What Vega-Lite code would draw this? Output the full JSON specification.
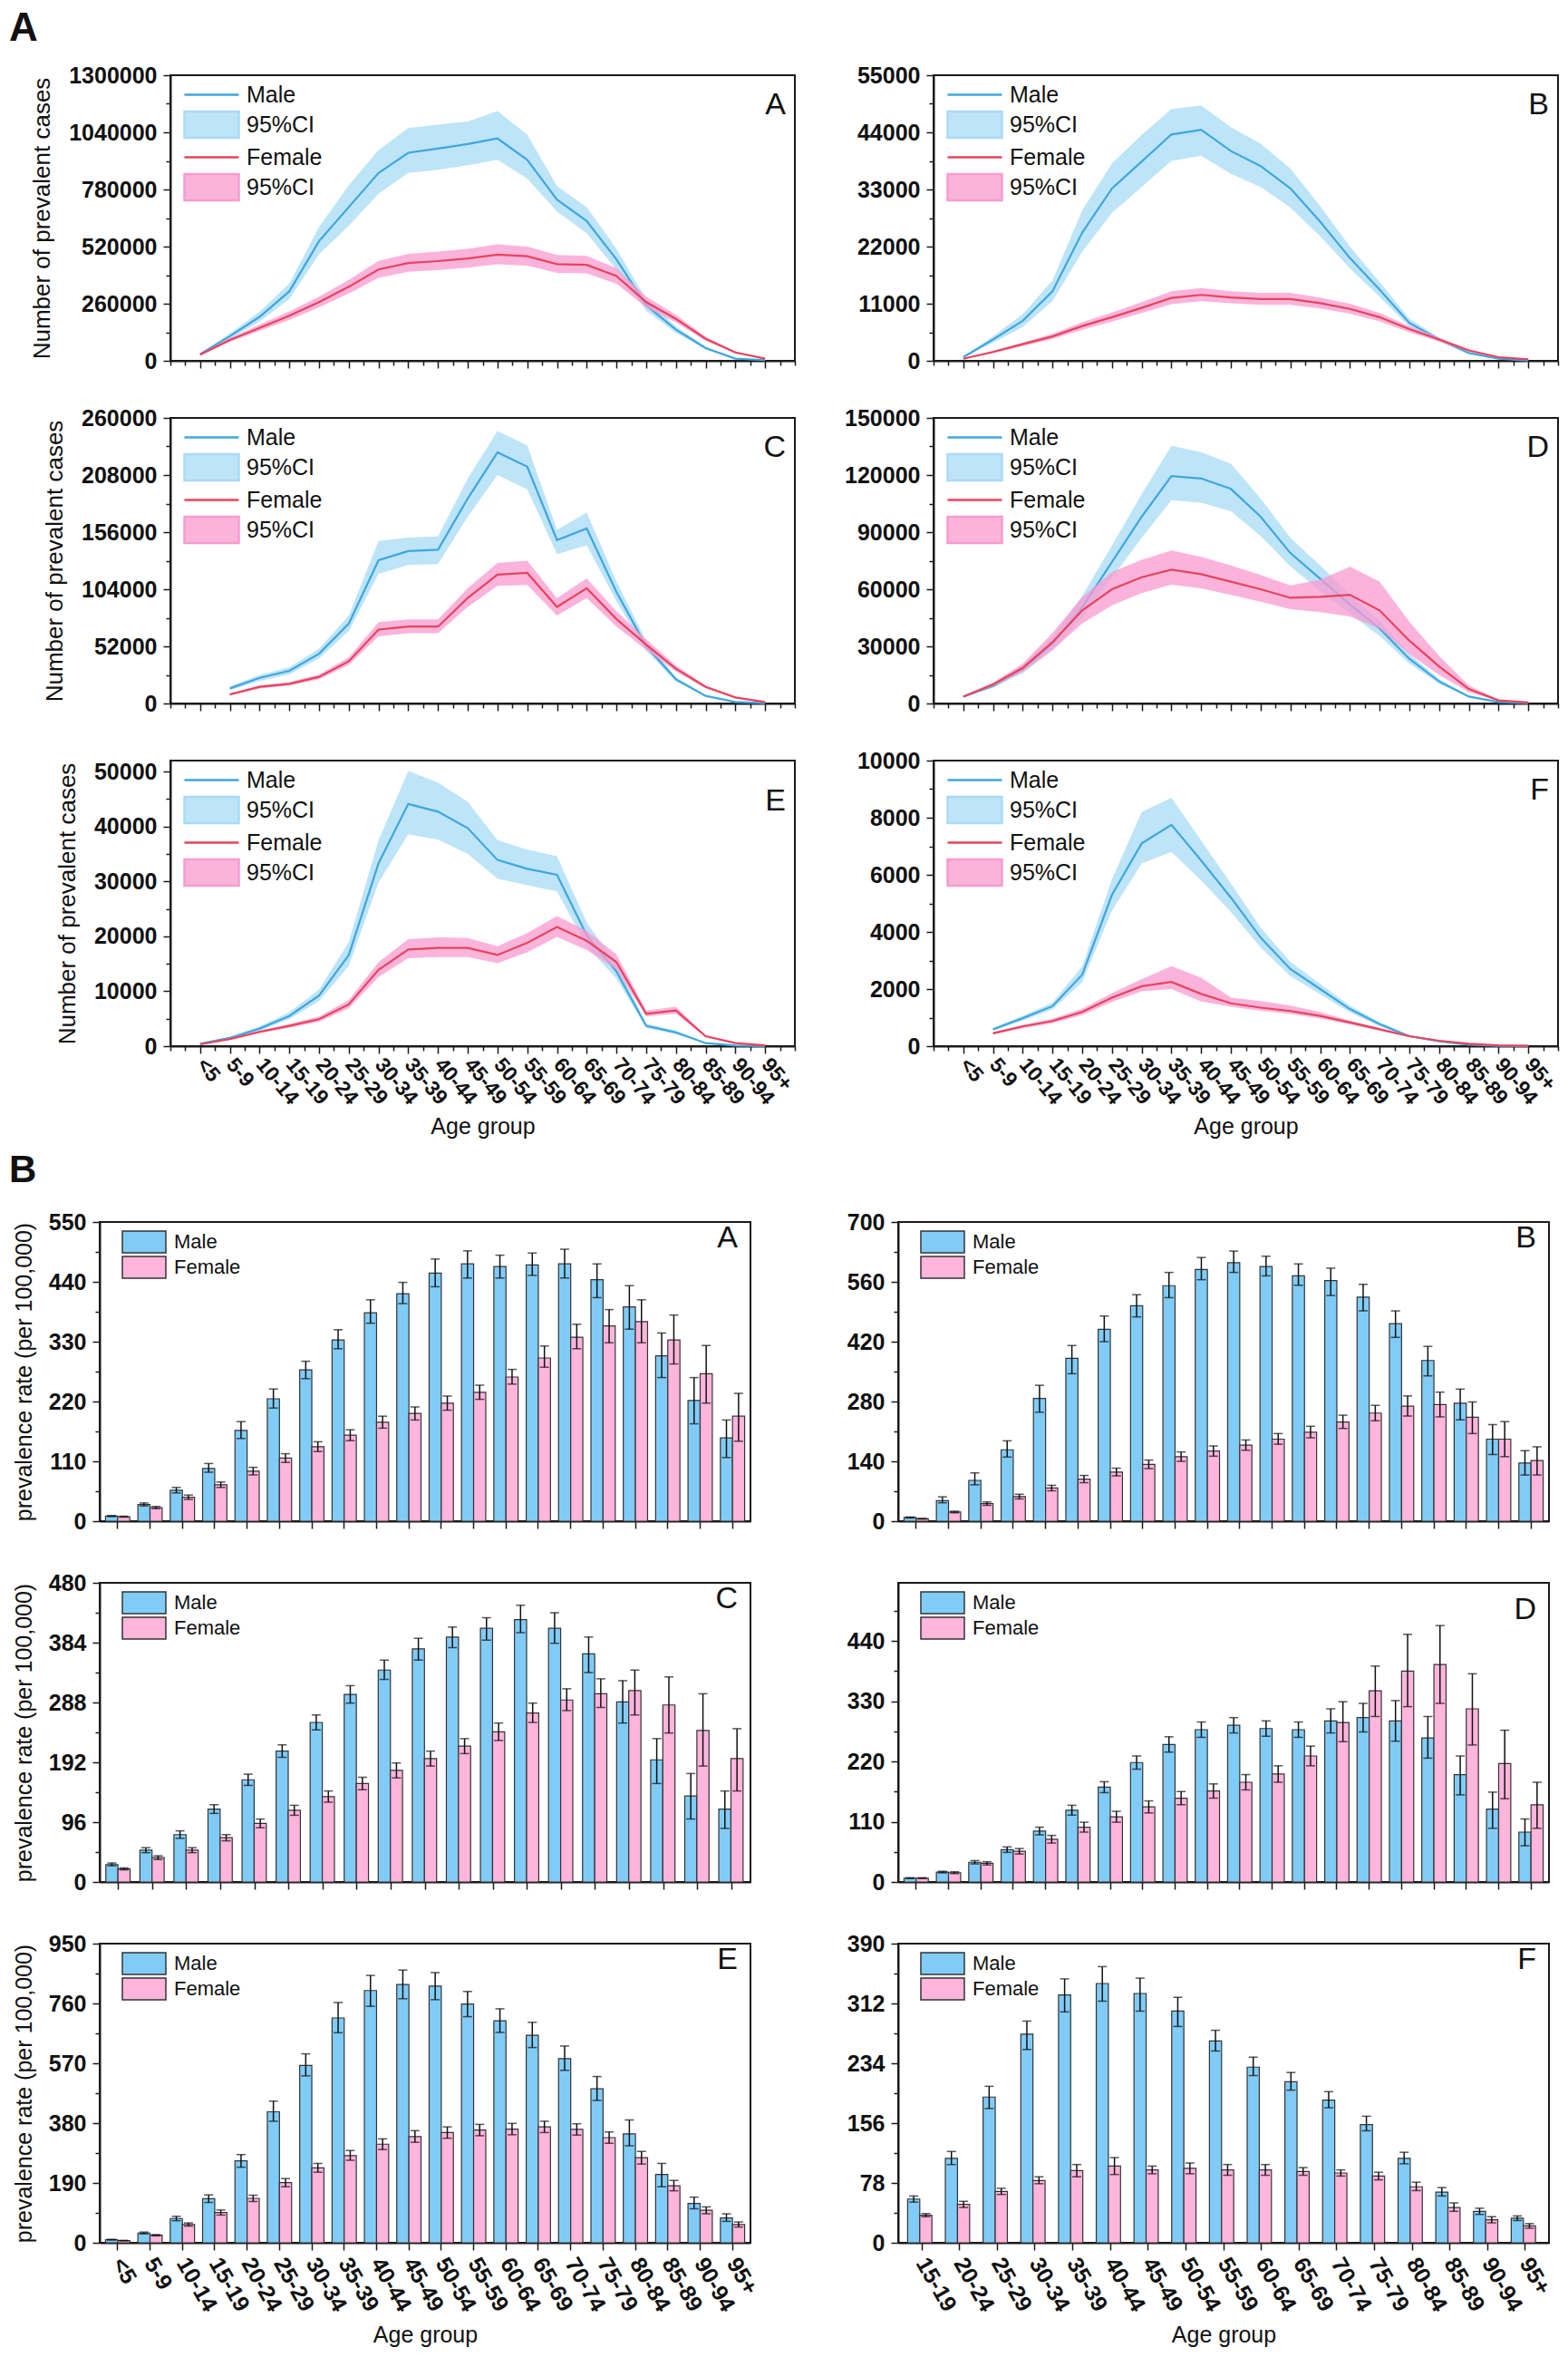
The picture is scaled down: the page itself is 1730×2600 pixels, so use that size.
{
"$schema": "https://vega.github.io/schema/vega-lite/v6.json",
"background": "white",
"padding": {"left": 10, "top": 10, "right": 0, "bottom": 0},
"columns": 1,
"align": "none",
"spacing": 13,
"resolve": {"scale": {"color": "independent"}, "legend": {"color": "independent"}},
"datasets": {
"lA": [
{"age":"<5","sex":"Male","val":30000,"lo":26000,"hi":34000},{"age":"5-9","sex":"Male","val":112000,"lo":100000,"hi":125000},{"age":"10-14","sex":"Male","val":200000,"lo":178000,"hi":224000},{"age":"15-19","sex":"Male","val":316000,"lo":282000,"hi":352000},{"age":"20-24","sex":"Male","val":545000,"lo":485000,"hi":610000},{"age":"25-29","sex":"Male","val":700000,"lo":615000,"hi":800000},{"age":"30-34","sex":"Male","val":855000,"lo":760000,"hi":960000},{"age":"35-39","sex":"Male","val":947000,"lo":855000,"hi":1060000},{"age":"40-44","sex":"Male","val":966000,"lo":870000,"hi":1075000},{"age":"45-49","sex":"Male","val":987000,"lo":890000,"hi":1090000},{"age":"50-54","sex":"Male","val":1012000,"lo":915000,"hi":1137000},{"age":"55-59","sex":"Male","val":915000,"lo":830000,"hi":1030000},{"age":"60-64","sex":"Male","val":734000,"lo":680000,"hi":795000},{"age":"65-69","sex":"Male","val":636000,"lo":580000,"hi":700000},{"age":"70-74","sex":"Male","val":462000,"lo":415000,"hi":510000},{"age":"75-79","sex":"Male","val":253000,"lo":228000,"hi":280000},{"age":"80-84","sex":"Male","val":142000,"lo":127000,"hi":157000},{"age":"85-89","sex":"Male","val":58000,"lo":52000,"hi":64000},{"age":"90-94","sex":"Male","val":10000,"lo":9000,"hi":11000},{"age":"95+","sex":"Male","val":3000,"lo":2700,"hi":3300},
{"age":"<5","sex":"Female","val":28000,"lo":25000,"hi":31000},{"age":"5-9","sex":"Female","val":95000,"lo":86000,"hi":104000},{"age":"10-14","sex":"Female","val":150000,"lo":136000,"hi":165000},{"age":"15-19","sex":"Female","val":205000,"lo":186000,"hi":225000},{"age":"20-24","sex":"Female","val":267000,"lo":243000,"hi":292000},{"age":"25-29","sex":"Female","val":337000,"lo":306000,"hi":368000},{"age":"30-34","sex":"Female","val":416000,"lo":378000,"hi":455000},{"age":"35-39","sex":"Female","val":445000,"lo":405000,"hi":487000},{"age":"40-44","sex":"Female","val":454000,"lo":413000,"hi":497000},{"age":"45-49","sex":"Female","val":466000,"lo":424000,"hi":510000},{"age":"50-54","sex":"Female","val":483000,"lo":440000,"hi":530000},{"age":"55-59","sex":"Female","val":476000,"lo":433000,"hi":520000},{"age":"60-64","sex":"Female","val":440000,"lo":400000,"hi":482000},{"age":"65-69","sex":"Female","val":437000,"lo":398000,"hi":478000},{"age":"70-74","sex":"Female","val":386000,"lo":351000,"hi":422000},{"age":"75-79","sex":"Female","val":267000,"lo":243000,"hi":292000},{"age":"80-84","sex":"Female","val":191000,"lo":174000,"hi":209000},{"age":"85-89","sex":"Female","val":100000,"lo":91000,"hi":109000},{"age":"90-94","sex":"Female","val":38000,"lo":34500,"hi":41500},{"age":"95+","sex":"Female","val":10000,"lo":9000,"hi":11000}
],
"lB": [
{"age":"<5","sex":"Male","val":700,"lo":600,"hi":800},{"age":"5-9","sex":"Male","val":4100,"lo":3500,"hi":4700},{"age":"10-14","sex":"Male","val":7700,"lo":6500,"hi":9000},{"age":"15-19","sex":"Male","val":13400,"lo":11500,"hi":15500},{"age":"20-24","sex":"Male","val":24700,"lo":21000,"hi":29000},{"age":"25-29","sex":"Male","val":33200,"lo":28500,"hi":38000},{"age":"30-34","sex":"Male","val":38400,"lo":33500,"hi":43500},{"age":"35-39","sex":"Male","val":43600,"lo":38500,"hi":48500},{"age":"40-44","sex":"Male","val":44500,"lo":39500,"hi":49200},{"age":"45-49","sex":"Male","val":40400,"lo":36000,"hi":45000},{"age":"50-54","sex":"Male","val":37500,"lo":33500,"hi":41800},{"age":"55-59","sex":"Male","val":33200,"lo":29500,"hi":37000},{"age":"60-64","sex":"Male","val":26800,"lo":24000,"hi":29800},{"age":"65-69","sex":"Male","val":19800,"lo":17800,"hi":22000},{"age":"70-74","sex":"Male","val":13700,"lo":12300,"hi":15200},{"age":"75-79","sex":"Male","val":7300,"lo":6600,"hi":8100},{"age":"80-84","sex":"Male","val":4100,"lo":3700,"hi":4500},{"age":"85-89","sex":"Male","val":1500,"lo":1350,"hi":1650},{"age":"90-94","sex":"Male","val":400,"lo":360,"hi":440},{"age":"95+","sex":"Male","val":60,"lo":50,"hi":70},
{"age":"<5","sex":"Female","val":400,"lo":350,"hi":450},{"age":"5-9","sex":"Female","val":1700,"lo":1500,"hi":1900},{"age":"10-14","sex":"Female","val":3200,"lo":2850,"hi":3550},{"age":"15-19","sex":"Female","val":4700,"lo":4200,"hi":5200},{"age":"20-24","sex":"Female","val":6700,"lo":6000,"hi":7400},{"age":"25-29","sex":"Female","val":8400,"lo":7550,"hi":9300},{"age":"30-34","sex":"Female","val":10200,"lo":9200,"hi":11300},{"age":"35-39","sex":"Female","val":12100,"lo":10900,"hi":13400},{"age":"40-44","sex":"Female","val":12700,"lo":11500,"hi":14000},{"age":"45-49","sex":"Female","val":12200,"lo":11100,"hi":13400},{"age":"50-54","sex":"Female","val":11900,"lo":10800,"hi":13100},{"age":"55-59","sex":"Female","val":11900,"lo":10800,"hi":13100},{"age":"60-64","sex":"Female","val":11100,"lo":10100,"hi":12200},{"age":"65-69","sex":"Female","val":10000,"lo":9100,"hi":11000},{"age":"70-74","sex":"Female","val":8400,"lo":7600,"hi":9200},{"age":"75-79","sex":"Female","val":6100,"lo":5500,"hi":6700},{"age":"80-84","sex":"Female","val":4100,"lo":3700,"hi":4500},{"age":"85-89","sex":"Female","val":2000,"lo":1800,"hi":2200},{"age":"90-94","sex":"Female","val":700,"lo":630,"hi":770},{"age":"95+","sex":"Female","val":300,"lo":270,"hi":330}
],
"lC": [
{"age":"5-9","sex":"Male","val":13700,"lo":12000,"hi":15500},{"age":"10-14","sex":"Male","val":23300,"lo":20500,"hi":26000},{"age":"15-19","sex":"Male","val":29700,"lo":26500,"hi":33000},{"age":"20-24","sex":"Male","val":45300,"lo":41000,"hi":50000},{"age":"25-29","sex":"Male","val":72800,"lo":66000,"hi":80000},{"age":"30-34","sex":"Male","val":130400,"lo":118000,"hi":148000},{"age":"35-39","sex":"Male","val":138700,"lo":126000,"hi":151000},{"age":"40-44","sex":"Male","val":140000,"lo":127000,"hi":152000},{"age":"45-49","sex":"Male","val":186700,"lo":170000,"hi":205000},{"age":"50-54","sex":"Male","val":228700,"lo":208000,"hi":248000},{"age":"55-59","sex":"Male","val":215600,"lo":195000,"hi":235000},{"age":"60-64","sex":"Male","val":148800,"lo":136000,"hi":158000},{"age":"65-69","sex":"Male","val":159300,"lo":144000,"hi":174000},{"age":"70-74","sex":"Male","val":101600,"lo":93000,"hi":111000},{"age":"75-79","sex":"Male","val":52200,"lo":48000,"hi":57000},{"age":"80-84","sex":"Male","val":22000,"lo":20000,"hi":24000},{"age":"85-89","sex":"Male","val":6900,"lo":6300,"hi":7500},{"age":"90-94","sex":"Male","val":1400,"lo":1250,"hi":1550},{"age":"95+","sex":"Male","val":300,"lo":270,"hi":330},
{"age":"5-9","sex":"Female","val":8200,"lo":7300,"hi":9100},{"age":"10-14","sex":"Female","val":15100,"lo":13700,"hi":16500},{"age":"15-19","sex":"Female","val":17800,"lo":16200,"hi":19500},{"age":"20-24","sex":"Female","val":24200,"lo":22000,"hi":26500},{"age":"25-29","sex":"Female","val":38400,"lo":35000,"hi":42000},{"age":"30-34","sex":"Female","val":67300,"lo":61000,"hi":74000},{"age":"35-39","sex":"Female","val":70000,"lo":64000,"hi":76500},{"age":"40-44","sex":"Female","val":70000,"lo":64000,"hi":76500},{"age":"45-49","sex":"Female","val":96100,"lo":88000,"hi":105000},{"age":"50-54","sex":"Female","val":117300,"lo":107000,"hi":128000},{"age":"55-59","sex":"Female","val":118900,"lo":108000,"hi":130000},{"age":"60-64","sex":"Female","val":87900,"lo":80000,"hi":96000},{"age":"65-69","sex":"Female","val":104900,"lo":96000,"hi":114000},{"age":"70-74","sex":"Female","val":76900,"lo":70000,"hi":84000},{"age":"75-79","sex":"Female","val":53500,"lo":49000,"hi":58500},{"age":"80-84","sex":"Female","val":31600,"lo":29000,"hi":34500},{"age":"85-89","sex":"Female","val":15100,"lo":13800,"hi":16500},{"age":"90-94","sex":"Female","val":5500,"lo":5000,"hi":6000},{"age":"95+","sex":"Female","val":1400,"lo":1250,"hi":1550}
],
"lD": [
{"age":"<5","sex":"Male","val":3600,"lo":3200,"hi":4000},{"age":"5-9","sex":"Male","val":9200,"lo":8300,"hi":10200},{"age":"10-14","sex":"Male","val":17900,"lo":16000,"hi":20000},{"age":"15-19","sex":"Male","val":31400,"lo":28000,"hi":35000},{"age":"20-24","sex":"Male","val":50500,"lo":45000,"hi":56500},{"age":"25-29","sex":"Male","val":74300,"lo":66000,"hi":83000},{"age":"30-34","sex":"Male","val":98100,"lo":87000,"hi":110000},{"age":"35-39","sex":"Male","val":119500,"lo":106800,"hi":135400},{"age":"40-44","sex":"Male","val":118200,"lo":105500,"hi":132000},{"age":"45-49","sex":"Male","val":112700,"lo":101000,"hi":126000},{"age":"50-54","sex":"Male","val":98100,"lo":88000,"hi":107600},{"age":"55-59","sex":"Male","val":79000,"lo":72000,"hi":87000},{"age":"60-64","sex":"Male","val":65500,"lo":59000,"hi":72500},{"age":"65-69","sex":"Male","val":52000,"lo":47000,"hi":57500},{"age":"70-74","sex":"Male","val":39400,"lo":35500,"hi":43500},{"age":"75-79","sex":"Male","val":23500,"lo":21000,"hi":26000},{"age":"80-84","sex":"Male","val":11600,"lo":10400,"hi":12800},{"age":"85-89","sex":"Male","val":3600,"lo":3200,"hi":4000},{"age":"90-94","sex":"Male","val":800,"lo":700,"hi":900},{"age":"95+","sex":"Male","val":200,"lo":180,"hi":220},
{"age":"<5","sex":"Female","val":3600,"lo":3200,"hi":4000},{"age":"5-9","sex":"Female","val":10000,"lo":9000,"hi":11000},{"age":"10-14","sex":"Female","val":18700,"lo":16500,"hi":21000},{"age":"15-19","sex":"Female","val":32200,"lo":28000,"hi":37000},{"age":"20-24","sex":"Female","val":48900,"lo":42000,"hi":56000},{"age":"25-29","sex":"Female","val":60000,"lo":51500,"hi":69000},{"age":"30-34","sex":"Female","val":66300,"lo":58000,"hi":75500},{"age":"35-39","sex":"Female","val":70300,"lo":62400,"hi":80300},{"age":"40-44","sex":"Female","val":67900,"lo":60500,"hi":77000},{"age":"45-49","sex":"Female","val":64000,"lo":57000,"hi":72500},{"age":"50-54","sex":"Female","val":60000,"lo":53500,"hi":67500},{"age":"55-59","sex":"Female","val":55500,"lo":49500,"hi":62000},{"age":"60-64","sex":"Female","val":56000,"lo":48000,"hi":65000},{"age":"65-69","sex":"Female","val":57100,"lo":45700,"hi":71900},{"age":"70-74","sex":"Female","val":48900,"lo":39400,"hi":64000},{"age":"75-79","sex":"Female","val":33000,"lo":26000,"hi":43000},{"age":"80-84","sex":"Female","val":19500,"lo":15000,"hi":25000},{"age":"85-89","sex":"Female","val":7600,"lo":6000,"hi":9500},{"age":"90-94","sex":"Female","val":1600,"lo":1300,"hi":2000},{"age":"95+","sex":"Female","val":500,"lo":400,"hi":600}
],
"lE": [
{"age":"<5","sex":"Male","val":440,"lo":380,"hi":500},{"age":"5-9","sex":"Male","val":1500,"lo":1300,"hi":1700},{"age":"10-14","sex":"Male","val":3200,"lo":2800,"hi":3600},{"age":"15-19","sex":"Male","val":5500,"lo":4900,"hi":6200},{"age":"20-24","sex":"Male","val":9200,"lo":8200,"hi":10300},{"age":"25-29","sex":"Male","val":16600,"lo":14600,"hi":19000},{"age":"30-34","sex":"Male","val":33300,"lo":29800,"hi":37500},{"age":"35-39","sex":"Male","val":44100,"lo":38600,"hi":50100},{"age":"40-44","sex":"Male","val":42700,"lo":37600,"hi":48000},{"age":"45-49","sex":"Male","val":39700,"lo":35000,"hi":44500},{"age":"50-54","sex":"Male","val":33900,"lo":30500,"hi":37500},{"age":"55-59","sex":"Male","val":32300,"lo":29300,"hi":35800},{"age":"60-64","sex":"Male","val":31200,"lo":28200,"hi":34600},{"age":"65-69","sex":"Male","val":20200,"lo":18200,"hi":22500},{"age":"70-74","sex":"Male","val":13600,"lo":12300,"hi":15000},{"age":"75-79","sex":"Male","val":3700,"lo":3300,"hi":4100},{"age":"80-84","sex":"Male","val":2500,"lo":2200,"hi":2800},{"age":"85-89","sex":"Male","val":550,"lo":480,"hi":620},{"age":"90-94","sex":"Male","val":100,"lo":90,"hi":110},{"age":"95+","sex":"Male","val":20,"lo":15,"hi":25},
{"age":"<5","sex":"Female","val":330,"lo":290,"hi":370},{"age":"5-9","sex":"Female","val":1300,"lo":1150,"hi":1450},{"age":"10-14","sex":"Female","val":2600,"lo":2350,"hi":2850},{"age":"15-19","sex":"Female","val":3700,"lo":3350,"hi":4050},{"age":"20-24","sex":"Female","val":4900,"lo":4450,"hi":5400},{"age":"25-29","sex":"Female","val":7600,"lo":6900,"hi":8400},{"age":"30-34","sex":"Female","val":13900,"lo":12600,"hi":15300},{"age":"35-39","sex":"Female","val":17600,"lo":16000,"hi":19500},{"age":"40-44","sex":"Female","val":17900,"lo":16200,"hi":19800},{"age":"45-49","sex":"Female","val":17900,"lo":16200,"hi":19700},{"age":"50-54","sex":"Female","val":16600,"lo":15100,"hi":18200},{"age":"55-59","sex":"Female","val":18800,"lo":17100,"hi":20600},{"age":"60-64","sex":"Female","val":21700,"lo":19900,"hi":23700},{"age":"65-69","sex":"Female","val":19200,"lo":17500,"hi":21000},{"age":"70-74","sex":"Female","val":15300,"lo":14000,"hi":16700},{"age":"75-79","sex":"Female","val":5900,"lo":5400,"hi":6500},{"age":"80-84","sex":"Female","val":6500,"lo":5900,"hi":7200},{"age":"85-89","sex":"Female","val":1800,"lo":1650,"hi":1950},{"age":"90-94","sex":"Female","val":550,"lo":500,"hi":600},{"age":"95+","sex":"Female","val":160,"lo":145,"hi":175}
],
"lF": [
{"age":"5-9","sex":"Male","val":590,"lo":540,"hi":640},{"age":"10-14","sex":"Male","val":980,"lo":900,"hi":1060},{"age":"15-19","sex":"Male","val":1400,"lo":1280,"hi":1520},{"age":"20-24","sex":"Male","val":2500,"lo":2250,"hi":2800},{"age":"25-29","sex":"Male","val":5300,"lo":4750,"hi":5850},{"age":"30-34","sex":"Male","val":7100,"lo":6400,"hi":8200},{"age":"35-39","sex":"Male","val":7750,"lo":6800,"hi":8700},{"age":"40-44","sex":"Male","val":6500,"lo":5800,"hi":7200},{"age":"45-49","sex":"Male","val":5200,"lo":4700,"hi":5700},{"age":"50-54","sex":"Male","val":3800,"lo":3450,"hi":4150},{"age":"55-59","sex":"Male","val":2700,"lo":2450,"hi":2950},{"age":"60-64","sex":"Male","val":2000,"lo":1820,"hi":2180},{"age":"65-69","sex":"Male","val":1300,"lo":1180,"hi":1420},{"age":"70-74","sex":"Male","val":770,"lo":700,"hi":840},{"age":"75-79","sex":"Male","val":350,"lo":320,"hi":380},{"age":"80-84","sex":"Male","val":170,"lo":155,"hi":185},{"age":"85-89","sex":"Male","val":50,"lo":45,"hi":55},{"age":"90-94","sex":"Male","val":10,"lo":9,"hi":11},{"age":"95+","sex":"Male","val":3,"lo":2,"hi":4},
{"age":"5-9","sex":"Female","val":450,"lo":410,"hi":490},{"age":"10-14","sex":"Female","val":690,"lo":630,"hi":750},{"age":"15-19","sex":"Female","val":880,"lo":800,"hi":960},{"age":"20-24","sex":"Female","val":1200,"lo":1090,"hi":1310},{"age":"25-29","sex":"Female","val":1700,"lo":1550,"hi":1860},{"age":"30-34","sex":"Female","val":2100,"lo":1920,"hi":2350},{"age":"35-39","sex":"Female","val":2250,"lo":2000,"hi":2800},{"age":"40-44","sex":"Female","val":1830,"lo":1560,"hi":2400},{"age":"45-49","sex":"Female","val":1500,"lo":1380,"hi":1700},{"age":"50-54","sex":"Female","val":1350,"lo":1240,"hi":1580},{"age":"55-59","sex":"Female","val":1230,"lo":1130,"hi":1420},{"age":"60-64","sex":"Female","val":1060,"lo":970,"hi":1200},{"age":"65-69","sex":"Female","val":830,"lo":760,"hi":900},{"age":"70-74","sex":"Female","val":590,"lo":540,"hi":640},{"age":"75-79","sex":"Female","val":350,"lo":320,"hi":380},{"age":"80-84","sex":"Female","val":190,"lo":175,"hi":205},{"age":"85-89","sex":"Female","val":85,"lo":78,"hi":92},{"age":"90-94","sex":"Female","val":30,"lo":27,"hi":33},{"age":"95+","sex":"Female","val":10,"lo":9,"hi":11}
],
"bA": [
{"age":"<5","sex":"Male","val":9.4,"lo":8.5,"hi":10.3},{"age":"5-9","sex":"Male","val":30.6,"lo":28,"hi":33.5},{"age":"10-14","sex":"Male","val":57,"lo":52,"hi":62},{"age":"15-19","sex":"Male","val":97,"lo":90,"hi":106},{"age":"20-24","sex":"Male","val":167,"lo":152,"hi":183},{"age":"25-29","sex":"Male","val":225,"lo":208,"hi":243},{"age":"30-34","sex":"Male","val":278,"lo":262,"hi":294},{"age":"35-39","sex":"Male","val":333,"lo":317,"hi":352},{"age":"40-44","sex":"Male","val":383,"lo":364,"hi":407},{"age":"45-49","sex":"Male","val":418,"lo":400,"hi":439},{"age":"50-54","sex":"Male","val":456,"lo":431,"hi":482},{"age":"55-59","sex":"Male","val":473,"lo":447,"hi":497},{"age":"60-64","sex":"Male","val":468,"lo":447,"hi":489},{"age":"65-69","sex":"Male","val":471,"lo":452,"hi":493},{"age":"70-74","sex":"Male","val":473,"lo":447,"hi":500},{"age":"75-79","sex":"Male","val":444,"lo":411,"hi":473},{"age":"80-84","sex":"Male","val":394,"lo":353,"hi":433},{"age":"85-89","sex":"Male","val":304,"lo":264,"hi":346},{"age":"90-94","sex":"Male","val":222,"lo":179,"hi":264},{"age":"95+","sex":"Male","val":153,"lo":117,"hi":186},
{"age":"<5","sex":"Female","val":8.3,"lo":7.5,"hi":9.1},{"age":"5-9","sex":"Female","val":25,"lo":23,"hi":27},{"age":"10-14","sex":"Female","val":44,"lo":40,"hi":48},{"age":"15-19","sex":"Female","val":67,"lo":62,"hi":72},{"age":"20-24","sex":"Female","val":92,"lo":85,"hi":99},{"age":"25-29","sex":"Female","val":116,"lo":108,"hi":124},{"age":"30-34","sex":"Female","val":137,"lo":128,"hi":146},{"age":"35-39","sex":"Female","val":158,"lo":148,"hi":168},{"age":"40-44","sex":"Female","val":182,"lo":171,"hi":193},{"age":"45-49","sex":"Female","val":198,"lo":186,"hi":210},{"age":"50-54","sex":"Female","val":217,"lo":204,"hi":230},{"age":"55-59","sex":"Female","val":237,"lo":224,"hi":250},{"age":"60-64","sex":"Female","val":265,"lo":252,"hi":279},{"age":"65-69","sex":"Female","val":300,"lo":283,"hi":322},{"age":"70-74","sex":"Female","val":338,"lo":317,"hi":362},{"age":"75-79","sex":"Female","val":359,"lo":328,"hi":389},{"age":"80-84","sex":"Female","val":367,"lo":328,"hi":407},{"age":"85-89","sex":"Female","val":333,"lo":289,"hi":379},{"age":"90-94","sex":"Female","val":271,"lo":217,"hi":323},{"age":"95+","sex":"Female","val":193,"lo":147,"hi":235}
],
"bB": [
{"age":"<5","sex":"Male","val":8.6,"lo":7.5,"hi":9.7},{"age":"5-9","sex":"Male","val":48,"lo":43,"hi":57},{"age":"10-14","sex":"Male","val":95.5,"lo":85,"hi":113},{"age":"15-19","sex":"Male","val":167,"lo":150,"hi":188},{"age":"20-24","sex":"Male","val":287,"lo":255,"hi":318},{"age":"25-29","sex":"Male","val":381,"lo":345,"hi":411},{"age":"30-34","sex":"Male","val":449,"lo":420,"hi":480},{"age":"35-39","sex":"Male","val":504,"lo":478,"hi":530},{"age":"40-44","sex":"Male","val":551,"lo":523,"hi":582},{"age":"45-49","sex":"Male","val":589,"lo":565,"hi":617},{"age":"50-54","sex":"Male","val":605,"lo":582,"hi":632},{"age":"55-59","sex":"Male","val":596,"lo":574,"hi":620},{"age":"60-64","sex":"Male","val":574,"lo":552,"hi":602},{"age":"65-69","sex":"Male","val":563,"lo":528,"hi":592},{"age":"70-74","sex":"Male","val":524,"lo":492,"hi":554},{"age":"75-79","sex":"Male","val":462,"lo":430,"hi":492},{"age":"80-84","sex":"Male","val":376,"lo":340,"hi":409},{"age":"85-89","sex":"Male","val":276,"lo":237,"hi":309},{"age":"90-94","sex":"Male","val":192,"lo":156,"hi":226},{"age":"95+","sex":"Male","val":136,"lo":108,"hi":165},
{"age":"<5","sex":"Female","val":5.7,"lo":5,"hi":6.4},{"age":"5-9","sex":"Female","val":21.5,"lo":19.5,"hi":23.5},{"age":"10-14","sex":"Female","val":41,"lo":37,"hi":45},{"age":"15-19","sex":"Female","val":57.4,"lo":52,"hi":63},{"age":"20-24","sex":"Female","val":77.5,"lo":71,"hi":84},{"age":"25-29","sex":"Female","val":98.4,"lo":90,"hi":107},{"age":"30-34","sex":"Female","val":115,"lo":106,"hi":124},{"age":"35-39","sex":"Female","val":133,"lo":123,"hi":143},{"age":"40-44","sex":"Female","val":151,"lo":140,"hi":162},{"age":"45-49","sex":"Female","val":164,"lo":152,"hi":176},{"age":"50-54","sex":"Female","val":178,"lo":166,"hi":190},{"age":"55-59","sex":"Female","val":192,"lo":180,"hi":205},{"age":"60-64","sex":"Female","val":208,"lo":195,"hi":222},{"age":"65-69","sex":"Female","val":232,"lo":217,"hi":248},{"age":"70-74","sex":"Female","val":253,"lo":235,"hi":271},{"age":"75-79","sex":"Female","val":269,"lo":246,"hi":293},{"age":"80-84","sex":"Female","val":273,"lo":244,"hi":302},{"age":"85-89","sex":"Female","val":243,"lo":205,"hi":279},{"age":"90-94","sex":"Female","val":192,"lo":151,"hi":233},{"age":"95+","sex":"Female","val":142,"lo":108,"hi":174}
],
"bC": [
{"age":"5-9","sex":"Male","val":28,"lo":26,"hi":30.5},{"age":"10-14","sex":"Male","val":51,"lo":47,"hi":55},{"age":"15-19","sex":"Male","val":76,"lo":70,"hi":82},{"age":"20-24","sex":"Male","val":117,"lo":110,"hi":124},{"age":"25-29","sex":"Male","val":164,"lo":155,"hi":173},{"age":"30-34","sex":"Male","val":210,"lo":200,"hi":220},{"age":"35-39","sex":"Male","val":256,"lo":244,"hi":268},{"age":"40-44","sex":"Male","val":301,"lo":287,"hi":315},{"age":"45-49","sex":"Male","val":340,"lo":325,"hi":356},{"age":"50-54","sex":"Male","val":374,"lo":356,"hi":391},{"age":"55-59","sex":"Male","val":393,"lo":376,"hi":409},{"age":"60-64","sex":"Male","val":407,"lo":388,"hi":424},{"age":"65-69","sex":"Male","val":421,"lo":400,"hi":444},{"age":"70-74","sex":"Male","val":407,"lo":383,"hi":432},{"age":"75-79","sex":"Male","val":366,"lo":336,"hi":393},{"age":"80-84","sex":"Male","val":289,"lo":255,"hi":323},{"age":"85-89","sex":"Male","val":196,"lo":158,"hi":230},{"age":"90-94","sex":"Male","val":138,"lo":101,"hi":174},{"age":"95+","sex":"Male","val":117,"lo":86,"hi":146},
{"age":"5-9","sex":"Female","val":21,"lo":19.5,"hi":22.5},{"age":"10-14","sex":"Female","val":39,"lo":36,"hi":42},{"age":"15-19","sex":"Female","val":51,"lo":47,"hi":55},{"age":"20-24","sex":"Female","val":71,"lo":66,"hi":76},{"age":"25-29","sex":"Female","val":94,"lo":87,"hi":101},{"age":"30-34","sex":"Female","val":115,"lo":107,"hi":123},{"age":"35-39","sex":"Female","val":137,"lo":128,"hi":146},{"age":"40-44","sex":"Female","val":158,"lo":148,"hi":168},{"age":"45-49","sex":"Female","val":179,"lo":167,"hi":191},{"age":"50-54","sex":"Female","val":198,"lo":186,"hi":210},{"age":"55-59","sex":"Female","val":218,"lo":206,"hi":230},{"age":"60-64","sex":"Female","val":241,"lo":227,"hi":255},{"age":"65-69","sex":"Female","val":271,"lo":256,"hi":287},{"age":"70-74","sex":"Female","val":292,"lo":275,"hi":310},{"age":"75-79","sex":"Female","val":302,"lo":280,"hi":326},{"age":"80-84","sex":"Female","val":307,"lo":268,"hi":340},{"age":"85-89","sex":"Female","val":284,"lo":239,"hi":329},{"age":"90-94","sex":"Female","val":243,"lo":186,"hi":302},{"age":"95+","sex":"Female","val":198,"lo":146,"hi":246}
],
"bD": [
{"age":"<5","sex":"Male","val":7,"lo":6.3,"hi":7.7},{"age":"5-9","sex":"Male","val":18,"lo":16.5,"hi":19.5},{"age":"10-14","sex":"Male","val":36,"lo":33,"hi":39},{"age":"15-19","sex":"Male","val":59,"lo":54,"hi":64},{"age":"20-24","sex":"Male","val":93,"lo":86,"hi":100},{"age":"25-29","sex":"Male","val":131,"lo":122,"hi":140},{"age":"30-34","sex":"Male","val":173,"lo":163,"hi":183},{"age":"35-39","sex":"Male","val":218,"lo":206,"hi":230},{"age":"40-44","sex":"Male","val":251,"lo":237,"hi":265},{"age":"45-49","sex":"Male","val":278,"lo":264,"hi":292},{"age":"50-54","sex":"Male","val":286,"lo":272,"hi":300},{"age":"55-59","sex":"Male","val":280,"lo":266,"hi":294},{"age":"60-64","sex":"Male","val":278,"lo":264,"hi":292},{"age":"65-69","sex":"Male","val":294,"lo":272,"hi":316},{"age":"70-74","sex":"Male","val":300,"lo":274,"hi":326},{"age":"75-79","sex":"Male","val":294,"lo":257,"hi":331},{"age":"80-84","sex":"Male","val":263,"lo":226,"hi":302},{"age":"85-89","sex":"Male","val":196,"lo":159,"hi":230},{"age":"90-94","sex":"Male","val":133,"lo":98,"hi":164},{"age":"95+","sex":"Male","val":91,"lo":66,"hi":115},
{"age":"<5","sex":"Female","val":7,"lo":6.3,"hi":7.7},{"age":"5-9","sex":"Female","val":17,"lo":15.5,"hi":18.5},{"age":"10-14","sex":"Female","val":34,"lo":31,"hi":37},{"age":"15-19","sex":"Female","val":56,"lo":51,"hi":61},{"age":"20-24","sex":"Female","val":78,"lo":71,"hi":85},{"age":"25-29","sex":"Female","val":100,"lo":91,"hi":109},{"age":"30-34","sex":"Female","val":119,"lo":109,"hi":129},{"age":"35-39","sex":"Female","val":137,"lo":126,"hi":148},{"age":"40-44","sex":"Female","val":153,"lo":141,"hi":165},{"age":"45-49","sex":"Female","val":166,"lo":153,"hi":179},{"age":"50-54","sex":"Female","val":182,"lo":168,"hi":196},{"age":"55-59","sex":"Female","val":197,"lo":182,"hi":212},{"age":"60-64","sex":"Female","val":230,"lo":212,"hi":248},{"age":"65-69","sex":"Female","val":291,"lo":256,"hi":329},{"age":"70-74","sex":"Female","val":349,"lo":302,"hi":394},{"age":"75-79","sex":"Female","val":385,"lo":320,"hi":452},{"age":"80-84","sex":"Female","val":397,"lo":326,"hi":468},{"age":"85-89","sex":"Female","val":316,"lo":250,"hi":380},{"age":"90-94","sex":"Female","val":216,"lo":152,"hi":277},{"age":"95+","sex":"Female","val":141,"lo":98,"hi":182}
],
"bE": [
{"age":"<5","sex":"Male","val":10,"lo":9,"hi":11},{"age":"5-9","sex":"Male","val":31,"lo":28,"hi":34},{"age":"10-14","sex":"Male","val":77,"lo":70,"hi":84},{"age":"15-19","sex":"Male","val":140,"lo":128,"hi":152},{"age":"20-24","sex":"Male","val":260,"lo":240,"hi":280},{"age":"25-29","sex":"Male","val":416,"lo":386,"hi":450},{"age":"30-34","sex":"Male","val":563,"lo":530,"hi":600},{"age":"35-39","sex":"Male","val":714,"lo":667,"hi":763},{"age":"40-44","sex":"Male","val":801,"lo":751,"hi":849},{"age":"45-49","sex":"Male","val":820,"lo":775,"hi":866},{"age":"50-54","sex":"Male","val":815,"lo":772,"hi":858},{"age":"55-59","sex":"Male","val":758,"lo":718,"hi":798},{"age":"60-64","sex":"Male","val":705,"lo":668,"hi":743},{"age":"65-69","sex":"Male","val":659,"lo":620,"hi":700},{"age":"70-74","sex":"Male","val":585,"lo":548,"hi":625},{"age":"75-79","sex":"Male","val":489,"lo":452,"hi":528},{"age":"80-84","sex":"Male","val":346,"lo":308,"hi":390},{"age":"85-89","sex":"Male","val":217,"lo":178,"hi":252},{"age":"90-94","sex":"Male","val":125,"lo":108,"hi":145},{"age":"95+","sex":"Male","val":79,"lo":68,"hi":92},
{"age":"<5","sex":"Female","val":7,"lo":6.3,"hi":7.7},{"age":"5-9","sex":"Female","val":24,"lo":22,"hi":26},{"age":"10-14","sex":"Female","val":58,"lo":53,"hi":63},{"age":"15-19","sex":"Female","val":96,"lo":88,"hi":104},{"age":"20-24","sex":"Female","val":141,"lo":131,"hi":151},{"age":"25-29","sex":"Female","val":191,"lo":178,"hi":204},{"age":"30-34","sex":"Female","val":238,"lo":224,"hi":252},{"age":"35-39","sex":"Female","val":277,"lo":262,"hi":293},{"age":"40-44","sex":"Female","val":313,"lo":296,"hi":330},{"age":"45-49","sex":"Female","val":337,"lo":319,"hi":356},{"age":"50-54","sex":"Female","val":350,"lo":332,"hi":368},{"age":"55-59","sex":"Female","val":358,"lo":340,"hi":376},{"age":"60-64","sex":"Female","val":361,"lo":343,"hi":379},{"age":"65-69","sex":"Female","val":368,"lo":350,"hi":386},{"age":"70-74","sex":"Female","val":360,"lo":342,"hi":378},{"age":"75-79","sex":"Female","val":334,"lo":316,"hi":352},{"age":"80-84","sex":"Female","val":270,"lo":250,"hi":290},{"age":"85-89","sex":"Female","val":181,"lo":165,"hi":198},{"age":"90-94","sex":"Female","val":103,"lo":92,"hi":114},{"age":"95+","sex":"Female","val":58,"lo":50,"hi":66}
],
"bF": [
{"age":"15-19","sex":"Male","val":57,"lo":53,"hi":61},{"age":"20-24","sex":"Male","val":110,"lo":102,"hi":119},{"age":"25-29","sex":"Male","val":190,"lo":175,"hi":204},{"age":"30-34","sex":"Male","val":272,"lo":252,"hi":289},{"age":"35-39","sex":"Male","val":323,"lo":301,"hi":344},{"age":"40-44","sex":"Male","val":338,"lo":315,"hi":360},{"age":"45-49","sex":"Male","val":325,"lo":302,"hi":345},{"age":"50-54","sex":"Male","val":302,"lo":282,"hi":320},{"age":"55-59","sex":"Male","val":263,"lo":250,"hi":277},{"age":"60-64","sex":"Male","val":229,"lo":218,"hi":242},{"age":"65-69","sex":"Male","val":210,"lo":199,"hi":222},{"age":"70-74","sex":"Male","val":186,"lo":176,"hi":197},{"age":"75-79","sex":"Male","val":154,"lo":146,"hi":165},{"age":"80-84","sex":"Male","val":110,"lo":103,"hi":118},{"age":"85-89","sex":"Male","val":66,"lo":61,"hi":72},{"age":"90-94","sex":"Male","val":41,"lo":37,"hi":45},{"age":"95+","sex":"Male","val":32,"lo":29,"hi":35},
{"age":"15-19","sex":"Female","val":36,"lo":34,"hi":38},{"age":"20-24","sex":"Female","val":50,"lo":46,"hi":54},{"age":"25-29","sex":"Female","val":67,"lo":63,"hi":71},{"age":"30-34","sex":"Female","val":81,"lo":77,"hi":86},{"age":"35-39","sex":"Female","val":94,"lo":86,"hi":102},{"age":"40-44","sex":"Female","val":100,"lo":89,"hi":111},{"age":"45-49","sex":"Female","val":95,"lo":90,"hi":100},{"age":"50-54","sex":"Female","val":97,"lo":90,"hi":104},{"age":"55-59","sex":"Female","val":95,"lo":88,"hi":102},{"age":"60-64","sex":"Female","val":95,"lo":88,"hi":102},{"age":"65-69","sex":"Female","val":93,"lo":88,"hi":98},{"age":"70-74","sex":"Female","val":91,"lo":87,"hi":95},{"age":"75-79","sex":"Female","val":87,"lo":82,"hi":92},{"age":"80-84","sex":"Female","val":73,"lo":68,"hi":79},{"age":"85-89","sex":"Female","val":46,"lo":41,"hi":52},{"age":"90-94","sex":"Female","val":30,"lo":26,"hi":34},{"age":"95+","sex":"Female","val":22,"lo":19,"hi":25}
]
},
"concat": [
{
"hconcat": [
{"width": 78, "height": 10, "data": {"values": []}, "mark": {"type": "point", "opacity": 0}, "encoding": {}, "view": {"stroke": null}},
{
"title": {"text": "A", "anchor": "start", "frame": "group", "dx": -178, "offset": 16, "fontSize": 44, "fontWeight": "bold"},
"columns": 2, "bounds": "flush", "spacing": {"row": 63, "column": 153},
"resolve": {"scale": {"color": "independent"}, "legend": {"color": "independent"}},
"concat": [
{
"width": 689, "height": 315, "data": {"name": "lA"},
"title": {"text": "A", "anchor": "end", "frame": "group", "offset": -62, "dx": -10, "fontSize": 34, "fontWeight": "normal"},
"encoding": {
"x": {"field": "age", "type": "ordinal", "sort": ["_0","_1","<5","_2","5-9","_3","10-14","_4","15-19","_5","20-24","_6","25-29","_7","30-34","_8","35-39","_9","40-44","_10","45-49","_11","50-54","_12","55-59","_13","60-64","_14","65-69","_15","70-74","_16","75-79","_17","80-84","_18","85-89","_19","90-94","_20","95+","_21","_22"], "scale": {"type": "point", "padding": 0, "domain": ["_0","_1","<5","_2","5-9","_3","10-14","_4","15-19","_5","20-24","_6","25-29","_7","30-34","_8","35-39","_9","40-44","_10","45-49","_11","50-54","_12","55-59","_13","60-64","_14","65-69","_15","70-74","_16","75-79","_17","80-84","_18","85-89","_19","90-94","_20","95+","_21","_22"]}, "axis": {"title": null, "labels": false, "tickSize": {"condition": {"test": "indexof(datum.value, '_') === 0", "value": 5}, "value": 8}}},
"y": {"field": "val", "type": "quantitative", "scale": {"domain": [0, 1300000], "nice": false}, "axis": {"title": "Number of prevalent cases", "titleFontSize": 26, "format": "d", "values": [0,130000,260000,390000,520000,650000,780000,910000,1040000,1170000,1300000], "labelExpr": "datum.value % 260000 === 0 ? datum.label : ''", "tickSize": {"condition": {"test": "datum.value % 260000 === 0", "value": 8}, "value": 5}, "titlePadding": 16}}
},
"layer": [
{"transform": [{"filter": "datum.sex === 'Male'"}], "mark": {"type": "area", "color": "#a8dbf6", "opacity": 0.75}, "encoding": {"y": {"field": "lo", "type": "quantitative", "title": "Number of prevalent cases"}, "y2": {"field": "hi"}}},
{"transform": [{"filter": "datum.sex === 'Male'"}], "mark": {"type": "line", "strokeWidth": 2.2}, "encoding": {"color": {"field": "sex", "type": "nominal", "scale": {"domain": ["Male","Male CI","Female","Female CI"], "range": ["#3ea7de","#a8dbf6","#e8435c","#f89bd0"]}, "legend": {"title": null, "orient": "none", "legendX": 14, "legendY": 5, "padding": 0, "labelExpr": "datum.label === 'Male CI' || datum.label === 'Female CI' ? '95%CI' : datum.label", "labelFontSize": 25, "labelOffset": 37, "symbolSize": 900, "rowPadding": 0, "encode": {"symbols": {"update": {"shape": {"signal": "datum.value === 'Male' || datum.value === 'Female' ? 'M-1,0H3' : 'M-1,-0.96H3V0.96H-1Z'"}, "fill": {"signal": "datum.value === 'Male CI' ? '#bee4f8' : datum.value === 'Female CI' ? '#fab4da' : 'transparent'"}, "stroke": {"signal": "datum.value === 'Male' ? '#3ea7de' : datum.value === 'Female' ? '#e8435c' : 'transparent'"}, "strokeWidth": {"value": 2.5}, "opacity": {"value": 1}}}}}}}},
{"transform": [{"filter": "datum.sex === 'Female'"}], "mark": {"type": "area", "color": "#f89bd0", "opacity": 0.75}, "encoding": {"y": {"field": "lo", "type": "quantitative", "title": "Number of prevalent cases"}, "y2": {"field": "hi"}}},
{"transform": [{"filter": "datum.sex === 'Female'"}], "mark": {"type": "line", "strokeWidth": 2.2}, "encoding": {"color": {"field": "sex", "type": "nominal"}}}
]
},
{
"width": 689, "height": 315, "data": {"name": "lB"},
"title": {"text": "B", "anchor": "end", "frame": "group", "offset": -62, "dx": -10, "fontSize": 34, "fontWeight": "normal"},
"encoding": {
"x": {"field": "age", "type": "ordinal", "sort": ["_0","_1","<5","_2","5-9","_3","10-14","_4","15-19","_5","20-24","_6","25-29","_7","30-34","_8","35-39","_9","40-44","_10","45-49","_11","50-54","_12","55-59","_13","60-64","_14","65-69","_15","70-74","_16","75-79","_17","80-84","_18","85-89","_19","90-94","_20","95+","_21","_22"], "scale": {"type": "point", "padding": 0, "domain": ["_0","_1","<5","_2","5-9","_3","10-14","_4","15-19","_5","20-24","_6","25-29","_7","30-34","_8","35-39","_9","40-44","_10","45-49","_11","50-54","_12","55-59","_13","60-64","_14","65-69","_15","70-74","_16","75-79","_17","80-84","_18","85-89","_19","90-94","_20","95+","_21","_22"]}, "axis": {"title": null, "labels": false, "tickSize": {"condition": {"test": "indexof(datum.value, '_') === 0", "value": 5}, "value": 8}}},
"y": {"field": "val", "type": "quantitative", "scale": {"domain": [0, 55000], "nice": false}, "axis": {"title": null, "format": "d", "values": [0,5500,11000,16500,22000,27500,33000,38500,44000,49500,55000], "labelExpr": "datum.value % 11000 === 0 ? datum.label : ''", "tickSize": {"condition": {"test": "datum.value % 11000 === 0", "value": 8}, "value": 5}}}
},
"layer": [
{"transform": [{"filter": "datum.sex === 'Male'"}], "mark": {"type": "area", "color": "#a8dbf6", "opacity": 0.75}, "encoding": {"y": {"field": "lo", "type": "quantitative", "title": null}, "y2": {"field": "hi"}}},
{"transform": [{"filter": "datum.sex === 'Male'"}], "mark": {"type": "line", "strokeWidth": 2.2}, "encoding": {"color": {"field": "sex", "type": "nominal", "scale": {"domain": ["Male","Male CI","Female","Female CI"], "range": ["#3ea7de","#a8dbf6","#e8435c","#f89bd0"]}, "legend": {"title": null, "orient": "none", "legendX": 14, "legendY": 5, "padding": 0, "labelExpr": "datum.label === 'Male CI' || datum.label === 'Female CI' ? '95%CI' : datum.label", "labelFontSize": 25, "labelOffset": 37, "symbolSize": 900, "rowPadding": 0, "encode": {"symbols": {"update": {"shape": {"signal": "datum.value === 'Male' || datum.value === 'Female' ? 'M-1,0H3' : 'M-1,-0.96H3V0.96H-1Z'"}, "fill": {"signal": "datum.value === 'Male CI' ? '#bee4f8' : datum.value === 'Female CI' ? '#fab4da' : 'transparent'"}, "stroke": {"signal": "datum.value === 'Male' ? '#3ea7de' : datum.value === 'Female' ? '#e8435c' : 'transparent'"}, "strokeWidth": {"value": 2.5}, "opacity": {"value": 1}}}}}}}},
{"transform": [{"filter": "datum.sex === 'Female'"}], "mark": {"type": "area", "color": "#f89bd0", "opacity": 0.75}, "encoding": {"y": {"field": "lo", "type": "quantitative", "title": null}, "y2": {"field": "hi"}}},
{"transform": [{"filter": "datum.sex === 'Female'"}], "mark": {"type": "line", "strokeWidth": 2.2}, "encoding": {"color": {"field": "sex", "type": "nominal"}}}
]
},
{
"width": 689, "height": 315, "data": {"name": "lC"},
"title": {"text": "C", "anchor": "end", "frame": "group", "offset": -62, "dx": -10, "fontSize": 34, "fontWeight": "normal"},
"encoding": {
"x": {"field": "age", "type": "ordinal", "sort": ["_0","_1","<5","_2","5-9","_3","10-14","_4","15-19","_5","20-24","_6","25-29","_7","30-34","_8","35-39","_9","40-44","_10","45-49","_11","50-54","_12","55-59","_13","60-64","_14","65-69","_15","70-74","_16","75-79","_17","80-84","_18","85-89","_19","90-94","_20","95+","_21","_22"], "scale": {"type": "point", "padding": 0, "domain": ["_0","_1","<5","_2","5-9","_3","10-14","_4","15-19","_5","20-24","_6","25-29","_7","30-34","_8","35-39","_9","40-44","_10","45-49","_11","50-54","_12","55-59","_13","60-64","_14","65-69","_15","70-74","_16","75-79","_17","80-84","_18","85-89","_19","90-94","_20","95+","_21","_22"]}, "axis": {"title": null, "labels": false, "tickSize": {"condition": {"test": "indexof(datum.value, '_') === 0", "value": 5}, "value": 8}}},
"y": {"field": "val", "type": "quantitative", "scale": {"domain": [0, 260000], "nice": false}, "axis": {"title": "Number of prevalent cases", "titleFontSize": 26, "format": "d", "values": [0,26000,52000,78000,104000,130000,156000,182000,208000,234000,260000], "labelExpr": "datum.value % 52000 === 0 ? datum.label : ''", "tickSize": {"condition": {"test": "datum.value % 52000 === 0", "value": 8}, "value": 5}, "titlePadding": 16}}
},
"layer": [
{"transform": [{"filter": "datum.sex === 'Male'"}], "mark": {"type": "area", "color": "#a8dbf6", "opacity": 0.75}, "encoding": {"y": {"field": "lo", "type": "quantitative", "title": "Number of prevalent cases"}, "y2": {"field": "hi"}}},
{"transform": [{"filter": "datum.sex === 'Male'"}], "mark": {"type": "line", "strokeWidth": 2.2}, "encoding": {"color": {"field": "sex", "type": "nominal", "scale": {"domain": ["Male","Male CI","Female","Female CI"], "range": ["#3ea7de","#a8dbf6","#e8435c","#f89bd0"]}, "legend": {"title": null, "orient": "none", "legendX": 14, "legendY": 5, "padding": 0, "labelExpr": "datum.label === 'Male CI' || datum.label === 'Female CI' ? '95%CI' : datum.label", "labelFontSize": 25, "labelOffset": 37, "symbolSize": 900, "rowPadding": 0, "encode": {"symbols": {"update": {"shape": {"signal": "datum.value === 'Male' || datum.value === 'Female' ? 'M-1,0H3' : 'M-1,-0.96H3V0.96H-1Z'"}, "fill": {"signal": "datum.value === 'Male CI' ? '#bee4f8' : datum.value === 'Female CI' ? '#fab4da' : 'transparent'"}, "stroke": {"signal": "datum.value === 'Male' ? '#3ea7de' : datum.value === 'Female' ? '#e8435c' : 'transparent'"}, "strokeWidth": {"value": 2.5}, "opacity": {"value": 1}}}}}}}},
{"transform": [{"filter": "datum.sex === 'Female'"}], "mark": {"type": "area", "color": "#f89bd0", "opacity": 0.75}, "encoding": {"y": {"field": "lo", "type": "quantitative", "title": "Number of prevalent cases"}, "y2": {"field": "hi"}}},
{"transform": [{"filter": "datum.sex === 'Female'"}], "mark": {"type": "line", "strokeWidth": 2.2}, "encoding": {"color": {"field": "sex", "type": "nominal"}}}
]
},
{
"width": 689, "height": 315, "data": {"name": "lD"},
"title": {"text": "D", "anchor": "end", "frame": "group", "offset": -62, "dx": -10, "fontSize": 34, "fontWeight": "normal"},
"encoding": {
"x": {"field": "age", "type": "ordinal", "sort": ["_0","_1","<5","_2","5-9","_3","10-14","_4","15-19","_5","20-24","_6","25-29","_7","30-34","_8","35-39","_9","40-44","_10","45-49","_11","50-54","_12","55-59","_13","60-64","_14","65-69","_15","70-74","_16","75-79","_17","80-84","_18","85-89","_19","90-94","_20","95+","_21","_22"], "scale": {"type": "point", "padding": 0, "domain": ["_0","_1","<5","_2","5-9","_3","10-14","_4","15-19","_5","20-24","_6","25-29","_7","30-34","_8","35-39","_9","40-44","_10","45-49","_11","50-54","_12","55-59","_13","60-64","_14","65-69","_15","70-74","_16","75-79","_17","80-84","_18","85-89","_19","90-94","_20","95+","_21","_22"]}, "axis": {"title": null, "labels": false, "tickSize": {"condition": {"test": "indexof(datum.value, '_') === 0", "value": 5}, "value": 8}}},
"y": {"field": "val", "type": "quantitative", "scale": {"domain": [0, 150000], "nice": false}, "axis": {"title": null, "format": "d", "values": [0,15000,30000,45000,60000,75000,90000,105000,120000,135000,150000], "labelExpr": "datum.value % 30000 === 0 ? datum.label : ''", "tickSize": {"condition": {"test": "datum.value % 30000 === 0", "value": 8}, "value": 5}}}
},
"layer": [
{"transform": [{"filter": "datum.sex === 'Male'"}], "mark": {"type": "area", "color": "#a8dbf6", "opacity": 0.75}, "encoding": {"y": {"field": "lo", "type": "quantitative", "title": null}, "y2": {"field": "hi"}}},
{"transform": [{"filter": "datum.sex === 'Male'"}], "mark": {"type": "line", "strokeWidth": 2.2}, "encoding": {"color": {"field": "sex", "type": "nominal", "scale": {"domain": ["Male","Male CI","Female","Female CI"], "range": ["#3ea7de","#a8dbf6","#e8435c","#f89bd0"]}, "legend": {"title": null, "orient": "none", "legendX": 14, "legendY": 5, "padding": 0, "labelExpr": "datum.label === 'Male CI' || datum.label === 'Female CI' ? '95%CI' : datum.label", "labelFontSize": 25, "labelOffset": 37, "symbolSize": 900, "rowPadding": 0, "encode": {"symbols": {"update": {"shape": {"signal": "datum.value === 'Male' || datum.value === 'Female' ? 'M-1,0H3' : 'M-1,-0.96H3V0.96H-1Z'"}, "fill": {"signal": "datum.value === 'Male CI' ? '#bee4f8' : datum.value === 'Female CI' ? '#fab4da' : 'transparent'"}, "stroke": {"signal": "datum.value === 'Male' ? '#3ea7de' : datum.value === 'Female' ? '#e8435c' : 'transparent'"}, "strokeWidth": {"value": 2.5}, "opacity": {"value": 1}}}}}}}},
{"transform": [{"filter": "datum.sex === 'Female'"}], "mark": {"type": "area", "color": "#f89bd0", "opacity": 0.75}, "encoding": {"y": {"field": "lo", "type": "quantitative", "title": null}, "y2": {"field": "hi"}}},
{"transform": [{"filter": "datum.sex === 'Female'"}], "mark": {"type": "line", "strokeWidth": 2.2}, "encoding": {"color": {"field": "sex", "type": "nominal"}}}
]
},
{
"width": 689, "height": 315, "data": {"name": "lE"},
"title": {"text": "E", "anchor": "end", "frame": "group", "offset": -62, "dx": -10, "fontSize": 34, "fontWeight": "normal"},
"encoding": {
"x": {"field": "age", "type": "ordinal", "sort": ["_0","_1","<5","_2","5-9","_3","10-14","_4","15-19","_5","20-24","_6","25-29","_7","30-34","_8","35-39","_9","40-44","_10","45-49","_11","50-54","_12","55-59","_13","60-64","_14","65-69","_15","70-74","_16","75-79","_17","80-84","_18","85-89","_19","90-94","_20","95+","_21","_22"], "scale": {"type": "point", "padding": 0, "domain": ["_0","_1","<5","_2","5-9","_3","10-14","_4","15-19","_5","20-24","_6","25-29","_7","30-34","_8","35-39","_9","40-44","_10","45-49","_11","50-54","_12","55-59","_13","60-64","_14","65-69","_15","70-74","_16","75-79","_17","80-84","_18","85-89","_19","90-94","_20","95+","_21","_22"]}, "axis": {"title": "Age group", "labelFontSize": 23, "labelAngle": 50, "labelAlign": "left", "labelBaseline": "middle", "labelPadding": 8, "labelOverlap": false, "labelExpr": "indexof(datum.value, '_') === 0 ? '' : datum.label", "tickSize": {"condition": {"test": "indexof(datum.value, '_') === 0", "value": 5}, "value": 8}, "titlePadding": 8}},
"y": {"field": "val", "type": "quantitative", "scale": {"domain": [0, 52000], "nice": false}, "axis": {"title": "Number of prevalent cases", "titleFontSize": 26, "format": "d", "values": [0,5000,10000,15000,20000,25000,30000,35000,40000,45000,50000], "labelExpr": "datum.value % 10000 === 0 ? datum.label : ''", "tickSize": {"condition": {"test": "datum.value % 10000 === 0", "value": 8}, "value": 5}, "titlePadding": 16}}
},
"layer": [
{"transform": [{"filter": "datum.sex === 'Male'"}], "mark": {"type": "area", "color": "#a8dbf6", "opacity": 0.75}, "encoding": {"y": {"field": "lo", "type": "quantitative", "title": "Number of prevalent cases"}, "y2": {"field": "hi"}}},
{"transform": [{"filter": "datum.sex === 'Male'"}], "mark": {"type": "line", "strokeWidth": 2.2}, "encoding": {"color": {"field": "sex", "type": "nominal", "scale": {"domain": ["Male","Male CI","Female","Female CI"], "range": ["#3ea7de","#a8dbf6","#e8435c","#f89bd0"]}, "legend": {"title": null, "orient": "none", "legendX": 14, "legendY": 5, "padding": 0, "labelExpr": "datum.label === 'Male CI' || datum.label === 'Female CI' ? '95%CI' : datum.label", "labelFontSize": 25, "labelOffset": 37, "symbolSize": 900, "rowPadding": 0, "encode": {"symbols": {"update": {"shape": {"signal": "datum.value === 'Male' || datum.value === 'Female' ? 'M-1,0H3' : 'M-1,-0.96H3V0.96H-1Z'"}, "fill": {"signal": "datum.value === 'Male CI' ? '#bee4f8' : datum.value === 'Female CI' ? '#fab4da' : 'transparent'"}, "stroke": {"signal": "datum.value === 'Male' ? '#3ea7de' : datum.value === 'Female' ? '#e8435c' : 'transparent'"}, "strokeWidth": {"value": 2.5}, "opacity": {"value": 1}}}}}}}},
{"transform": [{"filter": "datum.sex === 'Female'"}], "mark": {"type": "area", "color": "#f89bd0", "opacity": 0.75}, "encoding": {"y": {"field": "lo", "type": "quantitative", "title": "Number of prevalent cases"}, "y2": {"field": "hi"}}},
{"transform": [{"filter": "datum.sex === 'Female'"}], "mark": {"type": "line", "strokeWidth": 2.2}, "encoding": {"color": {"field": "sex", "type": "nominal"}}}
]
},
{
"width": 689, "height": 315, "data": {"name": "lF"},
"title": {"text": "F", "anchor": "end", "frame": "group", "offset": -62, "dx": -10, "fontSize": 34, "fontWeight": "normal"},
"encoding": {
"x": {"field": "age", "type": "ordinal", "sort": ["_0","_1","<5","_2","5-9","_3","10-14","_4","15-19","_5","20-24","_6","25-29","_7","30-34","_8","35-39","_9","40-44","_10","45-49","_11","50-54","_12","55-59","_13","60-64","_14","65-69","_15","70-74","_16","75-79","_17","80-84","_18","85-89","_19","90-94","_20","95+","_21","_22"], "scale": {"type": "point", "padding": 0, "domain": ["_0","_1","<5","_2","5-9","_3","10-14","_4","15-19","_5","20-24","_6","25-29","_7","30-34","_8","35-39","_9","40-44","_10","45-49","_11","50-54","_12","55-59","_13","60-64","_14","65-69","_15","70-74","_16","75-79","_17","80-84","_18","85-89","_19","90-94","_20","95+","_21","_22"]}, "axis": {"title": "Age group", "labelFontSize": 23, "labelAngle": 50, "labelAlign": "left", "labelBaseline": "middle", "labelPadding": 8, "labelOverlap": false, "labelExpr": "indexof(datum.value, '_') === 0 ? '' : datum.label", "tickSize": {"condition": {"test": "indexof(datum.value, '_') === 0", "value": 5}, "value": 8}, "titlePadding": 8}},
"y": {"field": "val", "type": "quantitative", "scale": {"domain": [0, 10000], "nice": false}, "axis": {"title": null, "format": "d", "values": [0,1000,2000,3000,4000,5000,6000,7000,8000,9000,10000], "labelExpr": "datum.value % 2000 === 0 ? datum.label : ''", "tickSize": {"condition": {"test": "datum.value % 2000 === 0", "value": 8}, "value": 5}}}
},
"layer": [
{"transform": [{"filter": "datum.sex === 'Male'"}], "mark": {"type": "area", "color": "#a8dbf6", "opacity": 0.75}, "encoding": {"y": {"field": "lo", "type": "quantitative", "title": null}, "y2": {"field": "hi"}}},
{"transform": [{"filter": "datum.sex === 'Male'"}], "mark": {"type": "line", "strokeWidth": 2.2}, "encoding": {"color": {"field": "sex", "type": "nominal", "scale": {"domain": ["Male","Male CI","Female","Female CI"], "range": ["#3ea7de","#a8dbf6","#e8435c","#f89bd0"]}, "legend": {"title": null, "orient": "none", "legendX": 14, "legendY": 5, "padding": 0, "labelExpr": "datum.label === 'Male CI' || datum.label === 'Female CI' ? '95%CI' : datum.label", "labelFontSize": 25, "labelOffset": 37, "symbolSize": 900, "rowPadding": 0, "encode": {"symbols": {"update": {"shape": {"signal": "datum.value === 'Male' || datum.value === 'Female' ? 'M-1,0H3' : 'M-1,-0.96H3V0.96H-1Z'"}, "fill": {"signal": "datum.value === 'Male CI' ? '#bee4f8' : datum.value === 'Female CI' ? '#fab4da' : 'transparent'"}, "stroke": {"signal": "datum.value === 'Male' ? '#3ea7de' : datum.value === 'Female' ? '#e8435c' : 'transparent'"}, "strokeWidth": {"value": 2.5}, "opacity": {"value": 1}}}}}}}},
{"transform": [{"filter": "datum.sex === 'Female'"}], "mark": {"type": "area", "color": "#f89bd0", "opacity": 0.75}, "encoding": {"y": {"field": "lo", "type": "quantitative", "title": null}, "y2": {"field": "hi"}}},
{"transform": [{"filter": "datum.sex === 'Female'"}], "mark": {"type": "line", "strokeWidth": 2.2}, "encoding": {"color": {"field": "sex", "type": "nominal"}}}
]
}
]
}
],
"spacing": 0,
"bounds": "flush",
"resolve": {"scale": {"color": "independent"}, "legend": {"color": "independent"}}
},
{
"title": {"text": "B", "anchor": "start", "frame": "group", "dx": -100, "offset": 22, "fontSize": 42, "fontWeight": "bold"},
"columns": 2, "bounds": "flush", "spacing": {"row": 68, "column": 163},
"resolve": {"scale": {"color": "independent"}, "legend": {"color": "independent"}},
"concat": [
{
"width": 718, "height": 330, "data": {"name": "bA"},
"title": {"text": "A", "anchor": "end", "frame": "group", "offset": -47, "dx": -14, "fontSize": 34, "fontWeight": "normal"},
"encoding": {
"x": {"field": "age", "type": "nominal", "scale": {"domain": ["<5","5-9","10-14","15-19","20-24","25-29","30-34","35-39","40-44","45-49","50-54","55-59","60-64","65-69","70-74","75-79","80-84","85-89","90-94","95+"], "paddingInner": 0.25, "paddingOuter": 0.18}, "axis": {"title": null, "labels": false, "tickSize": 8}},
"xOffset": {"field": "sex", "type": "nominal", "scale": {"domain": ["Male","Female"], "paddingInner": 0, "paddingOuter": 0}},
"y": {"field": "val", "type": "quantitative", "scale": {"domain": [0, 550], "nice": false}, "axis": {"title": "prevalence rate (per 100,000)", "values": [0,55,110,165,220,275,330,385,440,495,550], "labelExpr": "datum.value % 110 === 0 ? datum.label : ''", "tickSize": {"condition": {"test": "datum.value % 110 === 0", "value": 8}, "value": 5}, "titlePadding": 14}}
},
"layer": [
{"mark": {"type": "bar", "stroke": "#333", "strokeWidth": 1.2}, "encoding": {"color": {"field": "sex", "type": "nominal", "scale": {"domain": ["Male","Female"], "range": ["#80ccf7","#ffb5dc"]}, "legend": {"title": null, "orient": "none", "legendX": 24, "legendY": 9, "padding": 0, "labelFontSize": 22, "labelOffset": 32, "symbolSize": 576, "symbolType": "M-1,-1H3V1H-1Z", "symbolStrokeColor": "#333", "symbolStrokeWidth": 1.5, "rowPadding": -3}}}},
{"mark": {"type": "rule", "color": "#111", "strokeWidth": 1.5}, "encoding": {"y": {"field": "lo", "type": "quantitative", "title": "prevalence rate (per 100,000)"}, "y2": {"field": "hi"}}},
{"mark": {"type": "tick", "color": "#111", "thickness": 1.5, "size": 10}, "encoding": {"y": {"field": "hi", "type": "quantitative", "title": "prevalence rate (per 100,000)"}}},
{"mark": {"type": "tick", "color": "#111", "thickness": 1.5, "size": 10}, "encoding": {"y": {"field": "lo", "type": "quantitative", "title": "prevalence rate (per 100,000)"}}}
]
},
{
"width": 718, "height": 330, "data": {"name": "bB"},
"title": {"text": "B", "anchor": "end", "frame": "group", "offset": -47, "dx": -14, "fontSize": 34, "fontWeight": "normal"},
"encoding": {
"x": {"field": "age", "type": "nominal", "scale": {"domain": ["<5","5-9","10-14","15-19","20-24","25-29","30-34","35-39","40-44","45-49","50-54","55-59","60-64","65-69","70-74","75-79","80-84","85-89","90-94","95+"], "paddingInner": 0.25, "paddingOuter": 0.18}, "axis": {"title": null, "labels": false, "tickSize": 8}},
"xOffset": {"field": "sex", "type": "nominal", "scale": {"domain": ["Male","Female"], "paddingInner": 0, "paddingOuter": 0}},
"y": {"field": "val", "type": "quantitative", "scale": {"domain": [0, 700], "nice": false}, "axis": {"title": null, "values": [0,70,140,210,280,350,420,490,560,630,700], "labelExpr": "datum.value % 140 === 0 ? datum.label : ''", "tickSize": {"condition": {"test": "datum.value % 140 === 0", "value": 8}, "value": 5}}}
},
"layer": [
{"mark": {"type": "bar", "stroke": "#333", "strokeWidth": 1.2}, "encoding": {"color": {"field": "sex", "type": "nominal", "scale": {"domain": ["Male","Female"], "range": ["#80ccf7","#ffb5dc"]}, "legend": {"title": null, "orient": "none", "legendX": 24, "legendY": 9, "padding": 0, "labelFontSize": 22, "labelOffset": 32, "symbolSize": 576, "symbolType": "M-1,-1H3V1H-1Z", "symbolStrokeColor": "#333", "symbolStrokeWidth": 1.5, "rowPadding": -3}}}},
{"mark": {"type": "rule", "color": "#111", "strokeWidth": 1.5}, "encoding": {"y": {"field": "lo", "type": "quantitative", "title": null}, "y2": {"field": "hi"}}},
{"mark": {"type": "tick", "color": "#111", "thickness": 1.5, "size": 10}, "encoding": {"y": {"field": "hi", "type": "quantitative", "title": null}}},
{"mark": {"type": "tick", "color": "#111", "thickness": 1.5, "size": 10}, "encoding": {"y": {"field": "lo", "type": "quantitative", "title": null}}}
]
},
{
"width": 718, "height": 330, "data": {"name": "bC"},
"title": {"text": "C", "anchor": "end", "frame": "group", "offset": -47, "dx": -14, "fontSize": 34, "fontWeight": "normal"},
"encoding": {
"x": {"field": "age", "type": "nominal", "scale": {"domain": ["5-9","10-14","15-19","20-24","25-29","30-34","35-39","40-44","45-49","50-54","55-59","60-64","65-69","70-74","75-79","80-84","85-89","90-94","95+"], "paddingInner": 0.25, "paddingOuter": 0.18}, "axis": {"title": null, "labels": false, "tickSize": 8}},
"xOffset": {"field": "sex", "type": "nominal", "scale": {"domain": ["Male","Female"], "paddingInner": 0, "paddingOuter": 0}},
"y": {"field": "val", "type": "quantitative", "scale": {"domain": [0, 480], "nice": false}, "axis": {"title": "prevalence rate (per 100,000)", "values": [0,48,96,144,192,240,288,336,384,432,480], "labelExpr": "datum.value % 96 === 0 ? datum.label : ''", "tickSize": {"condition": {"test": "datum.value % 96 === 0", "value": 8}, "value": 5}, "titlePadding": 14}}
},
"layer": [
{"mark": {"type": "bar", "stroke": "#333", "strokeWidth": 1.2}, "encoding": {"color": {"field": "sex", "type": "nominal", "scale": {"domain": ["Male","Female"], "range": ["#80ccf7","#ffb5dc"]}, "legend": {"title": null, "orient": "none", "legendX": 24, "legendY": 9, "padding": 0, "labelFontSize": 22, "labelOffset": 32, "symbolSize": 576, "symbolType": "M-1,-1H3V1H-1Z", "symbolStrokeColor": "#333", "symbolStrokeWidth": 1.5, "rowPadding": -3}}}},
{"mark": {"type": "rule", "color": "#111", "strokeWidth": 1.5}, "encoding": {"y": {"field": "lo", "type": "quantitative", "title": "prevalence rate (per 100,000)"}, "y2": {"field": "hi"}}},
{"mark": {"type": "tick", "color": "#111", "thickness": 1.5, "size": 10}, "encoding": {"y": {"field": "hi", "type": "quantitative", "title": "prevalence rate (per 100,000)"}}},
{"mark": {"type": "tick", "color": "#111", "thickness": 1.5, "size": 10}, "encoding": {"y": {"field": "lo", "type": "quantitative", "title": "prevalence rate (per 100,000)"}}}
]
},
{
"width": 718, "height": 330, "data": {"name": "bD"},
"title": {"text": "D", "anchor": "end", "frame": "group", "offset": -47, "dx": -14, "fontSize": 34, "fontWeight": "normal"},
"encoding": {
"x": {"field": "age", "type": "nominal", "scale": {"domain": ["<5","5-9","10-14","15-19","20-24","25-29","30-34","35-39","40-44","45-49","50-54","55-59","60-64","65-69","70-74","75-79","80-84","85-89","90-94","95+"], "paddingInner": 0.25, "paddingOuter": 0.18}, "axis": {"title": null, "labels": false, "tickSize": 8}},
"xOffset": {"field": "sex", "type": "nominal", "scale": {"domain": ["Male","Female"], "paddingInner": 0, "paddingOuter": 0}},
"y": {"field": "val", "type": "quantitative", "scale": {"domain": [0, 546], "nice": false}, "axis": {"title": null, "values": [0,55,110,165,220,275,330,385,440,495], "labelExpr": "datum.value % 110 === 0 ? datum.label : ''", "tickSize": {"condition": {"test": "datum.value % 110 === 0", "value": 8}, "value": 5}}}
},
"layer": [
{"mark": {"type": "bar", "stroke": "#333", "strokeWidth": 1.2}, "encoding": {"color": {"field": "sex", "type": "nominal", "scale": {"domain": ["Male","Female"], "range": ["#80ccf7","#ffb5dc"]}, "legend": {"title": null, "orient": "none", "legendX": 24, "legendY": 9, "padding": 0, "labelFontSize": 22, "labelOffset": 32, "symbolSize": 576, "symbolType": "M-1,-1H3V1H-1Z", "symbolStrokeColor": "#333", "symbolStrokeWidth": 1.5, "rowPadding": -3}}}},
{"mark": {"type": "rule", "color": "#111", "strokeWidth": 1.5}, "encoding": {"y": {"field": "lo", "type": "quantitative", "title": null}, "y2": {"field": "hi"}}},
{"mark": {"type": "tick", "color": "#111", "thickness": 1.5, "size": 10}, "encoding": {"y": {"field": "hi", "type": "quantitative", "title": null}}},
{"mark": {"type": "tick", "color": "#111", "thickness": 1.5, "size": 10}, "encoding": {"y": {"field": "lo", "type": "quantitative", "title": null}}}
]
},
{
"width": 718, "height": 330, "data": {"name": "bE"},
"title": {"text": "E", "anchor": "end", "frame": "group", "offset": -47, "dx": -14, "fontSize": 34, "fontWeight": "normal"},
"encoding": {
"x": {"field": "age", "type": "nominal", "scale": {"domain": ["<5","5-9","10-14","15-19","20-24","25-29","30-34","35-39","40-44","45-49","50-54","55-59","60-64","65-69","70-74","75-79","80-84","85-89","90-94","95+"], "paddingInner": 0.25, "paddingOuter": 0.18}, "axis": {"title": "Age group", "labelFontSize": 25, "labelAngle": 60, "labelAlign": "left", "labelBaseline": "middle", "labelPadding": 10, "labelOverlap": false, "tickSize": 8, "titlePadding": 10}},
"xOffset": {"field": "sex", "type": "nominal", "scale": {"domain": ["Male","Female"], "paddingInner": 0, "paddingOuter": 0}},
"y": {"field": "val", "type": "quantitative", "scale": {"domain": [0, 950], "nice": false}, "axis": {"title": "prevalence rate (per 100,000)", "values": [0,95,190,285,380,475,570,665,760,855,950], "labelExpr": "datum.value % 190 === 0 ? datum.label : ''", "tickSize": {"condition": {"test": "datum.value % 190 === 0", "value": 8}, "value": 5}, "titlePadding": 14}}
},
"layer": [
{"mark": {"type": "bar", "stroke": "#333", "strokeWidth": 1.2}, "encoding": {"color": {"field": "sex", "type": "nominal", "scale": {"domain": ["Male","Female"], "range": ["#80ccf7","#ffb5dc"]}, "legend": {"title": null, "orient": "none", "legendX": 24, "legendY": 9, "padding": 0, "labelFontSize": 22, "labelOffset": 32, "symbolSize": 576, "symbolType": "M-1,-1H3V1H-1Z", "symbolStrokeColor": "#333", "symbolStrokeWidth": 1.5, "rowPadding": -3}}}},
{"mark": {"type": "rule", "color": "#111", "strokeWidth": 1.5}, "encoding": {"y": {"field": "lo", "type": "quantitative", "title": "prevalence rate (per 100,000)"}, "y2": {"field": "hi"}}},
{"mark": {"type": "tick", "color": "#111", "thickness": 1.5, "size": 10}, "encoding": {"y": {"field": "hi", "type": "quantitative", "title": "prevalence rate (per 100,000)"}}},
{"mark": {"type": "tick", "color": "#111", "thickness": 1.5, "size": 10}, "encoding": {"y": {"field": "lo", "type": "quantitative", "title": "prevalence rate (per 100,000)"}}}
]
},
{
"width": 718, "height": 330, "data": {"name": "bF"},
"title": {"text": "F", "anchor": "end", "frame": "group", "offset": -47, "dx": -14, "fontSize": 34, "fontWeight": "normal"},
"encoding": {
"x": {"field": "age", "type": "nominal", "scale": {"domain": ["15-19","20-24","25-29","30-34","35-39","40-44","45-49","50-54","55-59","60-64","65-69","70-74","75-79","80-84","85-89","90-94","95+"], "paddingInner": 0.25, "paddingOuter": 0.25}, "axis": {"title": "Age group", "labelFontSize": 25, "labelAngle": 60, "labelAlign": "left", "labelBaseline": "middle", "labelPadding": 10, "labelOverlap": false, "tickSize": 8, "titlePadding": 10}},
"xOffset": {"field": "sex", "type": "nominal", "scale": {"domain": ["Male","Female"], "paddingInner": 0, "paddingOuter": 0}},
"y": {"field": "val", "type": "quantitative", "scale": {"domain": [0, 390], "nice": false}, "axis": {"title": null, "values": [0,39,78,117,156,195,234,273,312,351,390], "labelExpr": "datum.value % 78 === 0 ? datum.label : ''", "tickSize": {"condition": {"test": "datum.value % 78 === 0", "value": 8}, "value": 5}}}
},
"layer": [
{"mark": {"type": "bar", "stroke": "#333", "strokeWidth": 1.2}, "encoding": {"color": {"field": "sex", "type": "nominal", "scale": {"domain": ["Male","Female"], "range": ["#80ccf7","#ffb5dc"]}, "legend": {"title": null, "orient": "none", "legendX": 24, "legendY": 9, "padding": 0, "labelFontSize": 22, "labelOffset": 32, "symbolSize": 576, "symbolType": "M-1,-1H3V1H-1Z", "symbolStrokeColor": "#333", "symbolStrokeWidth": 1.5, "rowPadding": -3}}}},
{"mark": {"type": "rule", "color": "#111", "strokeWidth": 1.5}, "encoding": {"y": {"field": "lo", "type": "quantitative", "title": null}, "y2": {"field": "hi"}}},
{"mark": {"type": "tick", "color": "#111", "thickness": 1.5, "size": 10}, "encoding": {"y": {"field": "hi", "type": "quantitative", "title": null}}},
{"mark": {"type": "tick", "color": "#111", "thickness": 1.5, "size": 10}, "encoding": {"y": {"field": "lo", "type": "quantitative", "title": null}}}
]
}
]
}
],
"config": {
"font": "Liberation Sans",
"view": {"stroke": "#1a1a1a", "strokeWidth": 2},
"axis": {"domainColor": "#1a1a1a", "domainWidth": 2, "tickColor": "#1a1a1a", "tickWidth": 1.5, "labelFont": "Liberation Sans", "labelFontSize": 25, "labelFontWeight": "bold", "labelColor": "#111", "labelPadding": 7, "titleFont": "Liberation Sans", "titleFontSize": 25, "titleFontWeight": "normal", "titleColor": "#111", "grid": false},
"legend": {"labelFont": "Liberation Sans", "labelColor": "#111"},
"title": {"font": "Liberation Sans", "color": "#111"}
}
}
